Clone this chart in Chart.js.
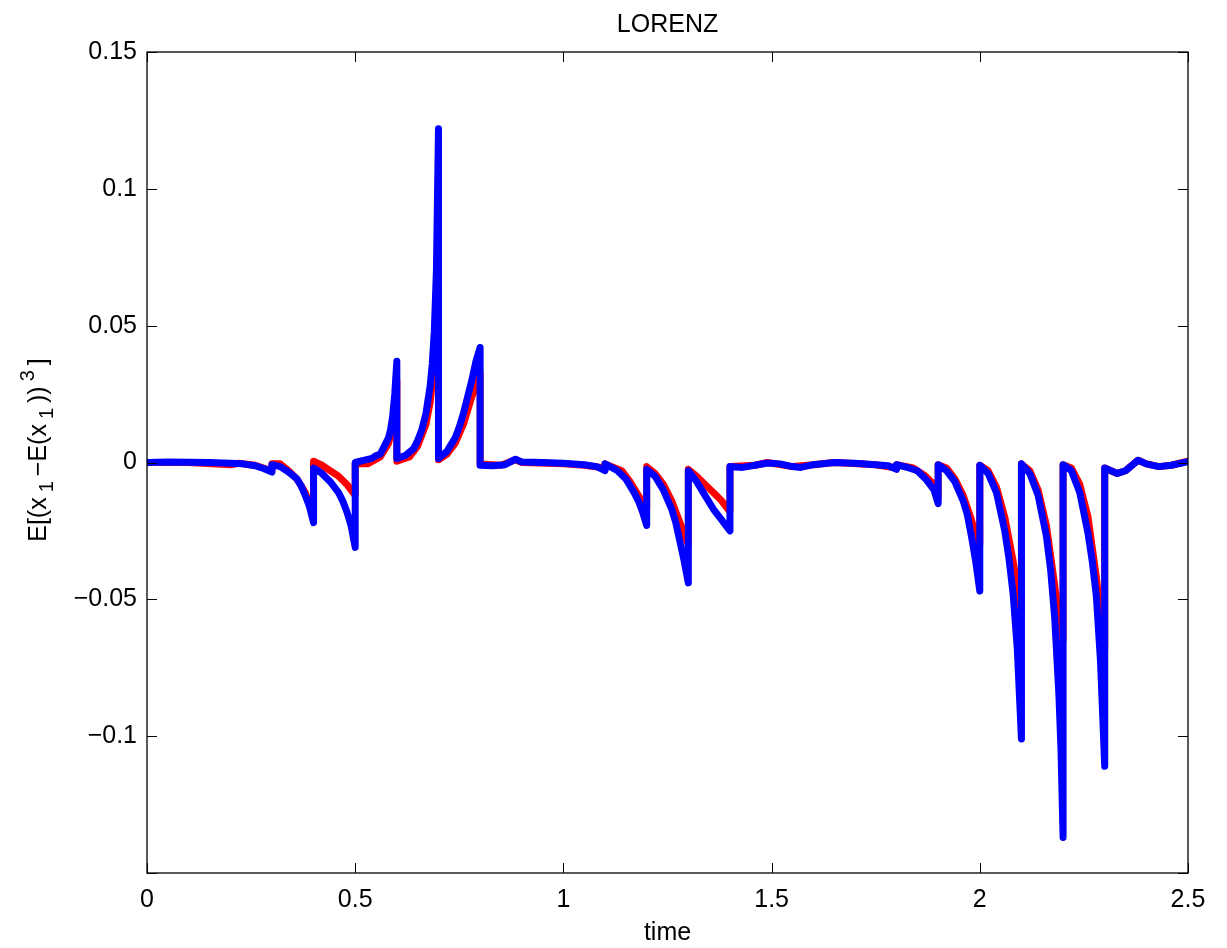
<!DOCTYPE html>
<html>
<head>
<meta charset="utf-8">
<script src="https://cdn.jsdelivr.net/npm/chart.js@4.4.1/dist/chart.umd.min.js"></script>
<style>
  html, body { margin: 0; padding: 0; background: #ffffff; }
  #wrap { width: 1227px; height: 948px; }
</style>
</head>
<body>
<div id="wrap"><canvas id="c" width="1227" height="948"></canvas></div>
<script>
// ---- Data ----
const chartTitle = "LORENZ";
const xAxisLabel = "time";
const xTicks = [0, 0.5, 1, 1.5, 2, 2.5];
const yTicks = [-0.15, -0.1, -0.05, 0, 0.05, 0.1, 0.15];

// Blue series (drawn on top)
const blueTime = [
  0, 0.05, 0.1, 0.15, 0.2, 0.23, 0.26, 0.28, 0.3,
  0.3, 0.32, 0.34, 0.36, 0.37, 0.38, 0.39, 0.4,
  0.4, 0.42, 0.44, 0.46, 0.47, 0.48, 0.49, 0.5,
  0.5, 0.52, 0.54, 0.55, 0.56, 0.57, 0.58, 0.585, 0.59, 0.595, 0.6,
  0.6, 0.62, 0.64, 0.65, 0.66, 0.67, 0.68, 0.685, 0.69, 0.695, 0.7,
  0.7, 0.72, 0.74, 0.75, 0.76, 0.77, 0.78, 0.79, 0.8,
  0.8, 0.83, 0.86, 0.885, 0.9, 0.95, 1.0, 1.05, 1.08, 1.1,
  1.1, 1.13, 1.15, 1.17, 1.18, 1.19, 1.2,
  1.2, 1.22, 1.24, 1.26, 1.27, 1.28, 1.29, 1.3,
  1.3, 1.32, 1.34, 1.36, 1.38, 1.39, 1.4,
  1.4, 1.43, 1.46, 1.49, 1.52, 1.55, 1.57, 1.6, 1.65, 1.7, 1.75, 1.78, 1.8,
  1.8, 1.83, 1.85, 1.87, 1.89, 1.9,
  1.9, 1.92, 1.94, 1.96, 1.97, 1.98, 1.99, 2.0,
  2.0, 2.02, 2.04, 2.06, 2.07, 2.08, 2.09, 2.1,
  2.1, 2.12, 2.14, 2.16, 2.17, 2.18, 2.19, 2.195, 2.2,
  2.2, 2.22, 2.24, 2.26, 2.27, 2.28, 2.29, 2.3,
  2.3, 2.33, 2.35, 2.38, 2.4, 2.43, 2.46, 2.5
];
const blueValue = [
  0, 0.0002, 0.0001, 0, -0.0003, -0.0005, -0.0012, -0.0022, -0.0035,
  -0.0008, -0.0015, -0.0035, -0.006, -0.0085, -0.012, -0.016, -0.022,
  -0.002, -0.004, -0.007, -0.011, -0.014, -0.018, -0.023, -0.031,
  0, 0.0008, 0.0015, 0.0025, 0.003, 0.006, 0.009, 0.012, 0.017, 0.025, 0.037,
  0.0015, 0.0025, 0.005, 0.008, 0.012, 0.018, 0.028, 0.036, 0.048, 0.07, 0.122,
  0.0015, 0.004, 0.009, 0.013, 0.018, 0.024, 0.030, 0.037, 0.042,
  -0.001, -0.0012, -0.0008, 0.0012, 0.0002, 0, -0.0003, -0.0008, -0.0015, -0.003,
  -0.0005, -0.003, -0.006, -0.011, -0.014, -0.018, -0.023,
  -0.0025, -0.005, -0.010, -0.017, -0.022, -0.029, -0.036, -0.044,
  -0.003, -0.007, -0.012, -0.017, -0.021, -0.023, -0.025,
  -0.0015, -0.0018, -0.001, -0.0002, -0.0005, -0.0015, -0.0018, -0.0008, 0, -0.0003, -0.0008, -0.0012, -0.0025,
  -0.0008, -0.002, -0.003, -0.006, -0.010, -0.015,
  -0.0008, -0.003, -0.007, -0.014, -0.019, -0.027, -0.036, -0.047,
  -0.001, -0.004, -0.011, -0.025, -0.035, -0.048, -0.068, -0.101,
  -0.0005, -0.004, -0.012, -0.027, -0.039, -0.057, -0.085, -0.105, -0.137,
  -0.0008, -0.003, -0.011, -0.026, -0.036, -0.049, -0.073, -0.111,
  -0.002, -0.004, -0.003, 0.0008, -0.0005, -0.0015, -0.001, 0.0003
];

// Red series (underneath)
const redTime = [
  0, 0.1, 0.2, 0.22, 0.26, 0.28, 0.3,
  0.3, 0.32, 0.34, 0.36, 0.38, 0.39, 0.4,
  0.4, 0.42, 0.44, 0.46, 0.48, 0.5,
  0.5, 0.53, 0.56, 0.58, 0.59, 0.6,
  0.6, 0.63, 0.65, 0.67, 0.68, 0.69, 0.7,
  0.7, 0.72, 0.74, 0.76, 0.78, 0.8,
  0.8, 0.85, 0.885, 0.9, 1.0, 1.05, 1.1,
  1.1, 1.14, 1.16, 1.18, 1.2,
  1.2, 1.22, 1.24, 1.26, 1.28, 1.3,
  1.3, 1.32, 1.34, 1.36, 1.38, 1.4,
  1.4, 1.46, 1.49, 1.55, 1.6, 1.65, 1.75, 1.8,
  1.8, 1.84, 1.87, 1.89, 1.9,
  1.9, 1.92, 1.94, 1.96, 1.98, 1.99, 2.0,
  2.0, 2.02, 2.04, 2.06, 2.08, 2.09, 2.1,
  2.1, 2.12, 2.14, 2.16, 2.18, 2.19, 2.2,
  2.2, 2.22, 2.24, 2.26, 2.28, 2.29, 2.3,
  2.3, 2.33, 2.35, 2.38, 2.4, 2.43, 2.46, 2.5
];
const redValue = [
  0, 0, -0.0008, -0.0003, -0.001, -0.002, -0.003,
  -0.0005, -0.0005, -0.003, -0.006, -0.011, -0.015, -0.02,
  0.0005, -0.001, -0.003, -0.005, -0.008, -0.012,
  -0.0005, -0.0005, 0.002, 0.007, 0.013, 0.03,
  0.0005, 0.002, 0.006, 0.014, 0.022, 0.036, 0.065,
  0.001, 0.003, 0.007, 0.014, 0.024, 0.033,
  -0.0005, -0.001, 0.001, 0, -0.0005, -0.001, -0.002,
  -0.0005, -0.003, -0.007, -0.012, -0.017,
  -0.0015, -0.004, -0.008, -0.014, -0.022, -0.03,
  -0.0025, -0.005, -0.008, -0.011, -0.014, -0.018,
  -0.0015, -0.001, 0, -0.0015, -0.0008, 0, -0.0008, -0.002,
  -0.0008, -0.002, -0.005, -0.008, -0.013,
  -0.0008, -0.002, -0.006, -0.012, -0.021, -0.026, -0.03,
  -0.001, -0.003, -0.009, -0.02, -0.036, -0.046, -0.055,
  -0.0005, -0.003, -0.010, -0.023, -0.045, -0.058, -0.065,
  -0.0008, -0.002, -0.008, -0.02, -0.042, -0.057, -0.068,
  -0.002, -0.004, -0.003, 0.0008, -0.0005, -0.0015, -0.001, 0.0005
];

// ---- Chart ----
const FONT = "'Liberation Sans', Arial, Helvetica, sans-serif";
const FSIZE = 25;

function toPoints(ts, vs) { return ts.map((t, i) => ({ x: t, y: vs[i] })); }
function fmt(v) {
  const r = Math.round(v * 1000) / 1000;
  if (r === 0) return "0";
  const s = String(Math.abs(r));
  return (r < 0 ? "\u2212" : "") + s;
}

const framePlugin = {
  id: "matlabFrame",
  afterDraw(chart) {
    const ctx = chart.ctx;
    const a = chart.chartArea;
    const xs = chart.scales.x, ys = chart.scales.y;
    ctx.save();
    ctx.strokeStyle = "#000";
    ctx.lineWidth = 1.3;
    ctx.strokeRect(a.left, a.top, a.right - a.left, a.bottom - a.top);
    const TL = 10;
    ctx.lineWidth = 1;
    ctx.beginPath();
    xTicks.forEach(v => {
      const px = Math.round(xs.getPixelForValue(v)) + 0.5;
      ctx.moveTo(px, a.bottom); ctx.lineTo(px, a.bottom - TL);
      ctx.moveTo(px, a.top); ctx.lineTo(px, a.top + TL);
    });
    yTicks.forEach(v => {
      const py = Math.round(ys.getPixelForValue(v)) + 0.5;
      ctx.moveTo(a.left, py); ctx.lineTo(a.left + TL, py);
      ctx.moveTo(a.right, py); ctx.lineTo(a.right - TL, py);
    });
    ctx.stroke();

    // title
    ctx.fillStyle = "#000";
    ctx.font = FSIZE + "px " + FONT;
    ctx.textAlign = "center";
    ctx.textBaseline = "alphabetic";
    const cx = (a.left + a.right) / 2;
    ctx.fillText(chartTitle, cx, 32);
    // x label
    ctx.fillText(xAxisLabel, cx, 940);

    // y label with sub/superscripts: E[(x_1-E(x_1))^3]
    const parts = [
      { t: "E[(x", s: 1, dy: 0 },
      { t: "1", s: 0.8, dy: 7 },
      { t: "\u2212E(x", s: 1, dy: 0 },
      { t: "1", s: 0.8, dy: 7 },
      { t: "))", s: 1, dy: 0 },
      { t: "3", s: 0.8, dy: -12 },
      { t: "]", s: 1, dy: 0 }
    ];
    let total = 0;
    const gap = 5;
    parts.forEach(p => {
      ctx.font = Math.round(FSIZE * p.s) + "px " + FONT;
      p.w = ctx.measureText(p.t).width;
      total += p.w + (p.s < 1 ? gap * 2 : 0);
    });
    ctx.translate(46, 450);
    ctx.rotate(-Math.PI / 2);
    ctx.textAlign = "left";
    let x = -total / 2;
    parts.forEach(p => {
      ctx.font = Math.round(FSIZE * p.s) + "px " + FONT;
      if (p.s < 1) x += gap;
      ctx.fillText(p.t, x, p.dy);
      x += p.w + (p.s < 1 ? gap : 0);
    });
    ctx.restore();
  }
};

new Chart(document.getElementById("c"), {
  type: "line",
  data: {
    datasets: [
      {
        label: "blue",
        data: toPoints(blueTime, blueValue),
        borderColor: "#0000ff",
        backgroundColor: "#0000ff",
        borderWidth: 7,
        pointRadius: 0,
        tension: 0,
        fill: false,
        borderJoinStyle: "round",
        borderCapStyle: "round"
      },
      {
        label: "red",
        data: toPoints(redTime, redValue),
        borderColor: "#ff0000",
        backgroundColor: "#ff0000",
        borderWidth: 7,
        pointRadius: 0,
        tension: 0,
        fill: false,
        borderJoinStyle: "round",
        borderCapStyle: "round"
      }
    ]
  },
  options: {
    responsive: false,
    animation: false,
    events: [],
    layout: { padding: { top: 52, right: 39, left: 0, bottom: 0 } },
    plugins: {
      legend: { display: false },
      title: { display: false },
      tooltip: { enabled: false }
    },
    scales: {
      x: {
        type: "linear",
        min: 0, max: 2.5,
        afterFit: s => { s.height = 75; },
        afterBuildTicks: s => { s.ticks = xTicks.map(v => ({ value: v })); },
        grid: { display: false, drawTicks: false },
        border: { display: false },
        ticks: {
          color: "#000",
          font: { family: FONT, size: FSIZE },
          padding: 12,
          maxRotation: 0,
          callback: v => fmt(v)
        }
      },
      y: {
        type: "linear",
        min: -0.15, max: 0.15,
        afterFit: s => { s.width = 147; },
        afterBuildTicks: s => { s.ticks = yTicks.map(v => ({ value: v })); },
        grid: { display: false, drawTicks: false },
        border: { display: false },
        ticks: {
          color: "#000",
          font: { family: FONT, size: FSIZE },
          padding: 10,
          callback: v => (Math.abs(v + 0.15) < 1e-9 ? "" : fmt(v))
        }
      }
    }
  },
  plugins: [framePlugin]
});
</script>
</body>
</html>
